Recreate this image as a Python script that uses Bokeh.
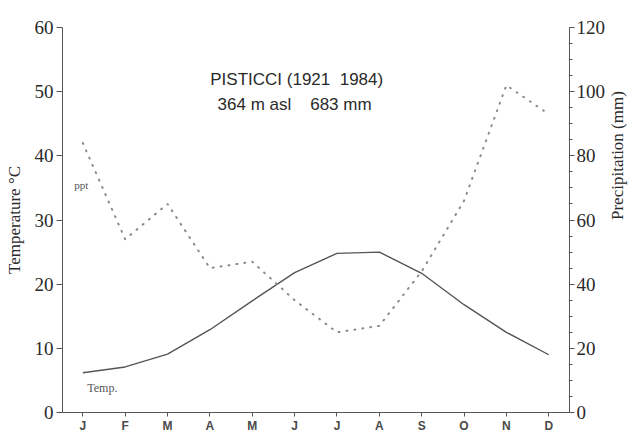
from bokeh.plotting import figure
from bokeh.models import Range1d, LinearAxis, FixedTicker, SingleIntervalTicker, Label
from bokeh.embed import file_html
from bokeh.resources import INLINE
import math

months = [1, 2, 3, 4, 5, 6, 7, 8, 9, 10, 11, 12]
month_labels = ["J", "F", "M", "A", "M", "J", "J", "A", "S", "O", "N", "D"]
temperature = [6.2, 7.1, 9.1, 12.9, 17.4, 21.8, 24.8, 25.0, 21.7, 16.8, 12.5, 9.0]
precipitation = [84, 54, 65, 45, 47, 35, 25, 27, 44, 66, 102, 93]

ink = "#555555"
txt = "#2a2a2a"
serif = "Liberation Serif"
sans = "Liberation Sans"
NB = "\u00a0"

p = figure(width=639, height=438, output_backend="svg", toolbar_location=None,
           x_range=Range1d(0.52, 12.49), y_range=Range1d(0, 60),
           min_border_left=62, min_border_right=66, min_border_top=27, min_border_bottom=26)
p.extra_y_ranges = {"ppt": Range1d(0, 120)}
p.outline_line_color = None
p.xgrid.visible = False
p.ygrid.visible = False
p.background_fill_color = "white"

# bottom axis
xa = p.xaxis[0]
xa.ticker = FixedTicker(ticks=months)
xa.major_label_overrides = {m: l for m, l in zip(months, month_labels)}
xa.major_label_text_font = sans
xa.major_label_text_font_style = "bold"
xa.major_label_text_font_size = "12px"
xa.major_label_text_color = "#4a4a4a"
xa.axis_line_color = ink
xa.major_tick_line_color = ink
xa.major_tick_out = 4
xa.major_tick_in = 0
xa.minor_tick_line_color = None
xa.major_label_standoff = 2

# left axis
ya = p.yaxis[0]
ya.ticker = SingleIntervalTicker(interval=10, num_minor_ticks=0)
ya.axis_label = "Temperature °C"
ya.axis_label_text_font = serif
ya.axis_label_text_font_style = "normal"
ya.axis_label_text_font_size = "17px"
ya.axis_label_text_color = txt
ya.axis_label_standoff = 8
ya.major_label_text_font = serif
ya.major_label_text_font_size = "19px"
ya.major_label_text_color = txt
ya.major_label_standoff = 3
ya.axis_line_color = ink
ya.major_tick_line_color = ink
ya.major_tick_out = 6
ya.major_tick_in = 0
ya.minor_tick_line_color = None

# right axis
ra = LinearAxis(y_range_name="ppt", ticker=SingleIntervalTicker(interval=20, num_minor_ticks=4))
ra.axis_label = "Precipitation (mm)"
ra.axis_label_orientation = math.pi / 2
ra.axis_label_text_font = serif
ra.axis_label_text_font_style = "normal"
ra.axis_label_text_font_size = "17px"
ra.axis_label_text_color = txt
ra.axis_label_standoff = 9
ra.major_label_text_font = serif
ra.major_label_text_font_size = "19px"
ra.major_label_text_color = txt
ra.major_label_standoff = 2
ra.axis_line_color = ink
ra.major_tick_line_color = ink
ra.major_tick_out = 5
ra.major_tick_in = 0
ra.minor_tick_line_color = ink
ra.minor_tick_out = 3
ra.minor_tick_in = 0
p.add_layout(ra, "right")

# data
p.line(months, temperature, line_color=ink, line_width=1.4)
p.line(months, precipitation, y_range_name="ppt", line_color="#8a8a8a", line_width=2,
       line_dash="1 7", line_cap="round")

# annotations
p.add_layout(Label(x=6.05, y=51.9, text="PISTICCI (1921" + NB + NB + "1984)", text_font=sans,
                   text_font_size="17px", text_color=txt, text_align="center",
                   text_baseline="middle"))
p.add_layout(Label(x=6.0, y=48.0, text="364 m asl" + NB * 4 + "683 mm", text_font=sans,
                   text_font_size="17px", text_color=txt, text_align="center",
                   text_baseline="middle"))
p.add_layout(Label(x=0.965, y=35.4, text="ppt", text_font=serif, text_font_size="11px",
                   text_color="#555555", text_align="center", text_baseline="middle"))
p.add_layout(Label(x=1.46, y=3.75, text="Temp.", text_font=serif, text_font_size="12px",
                   text_color="#555555", text_align="center", text_baseline="middle"))

open("out.html", "w").write(file_html(p, INLINE))
